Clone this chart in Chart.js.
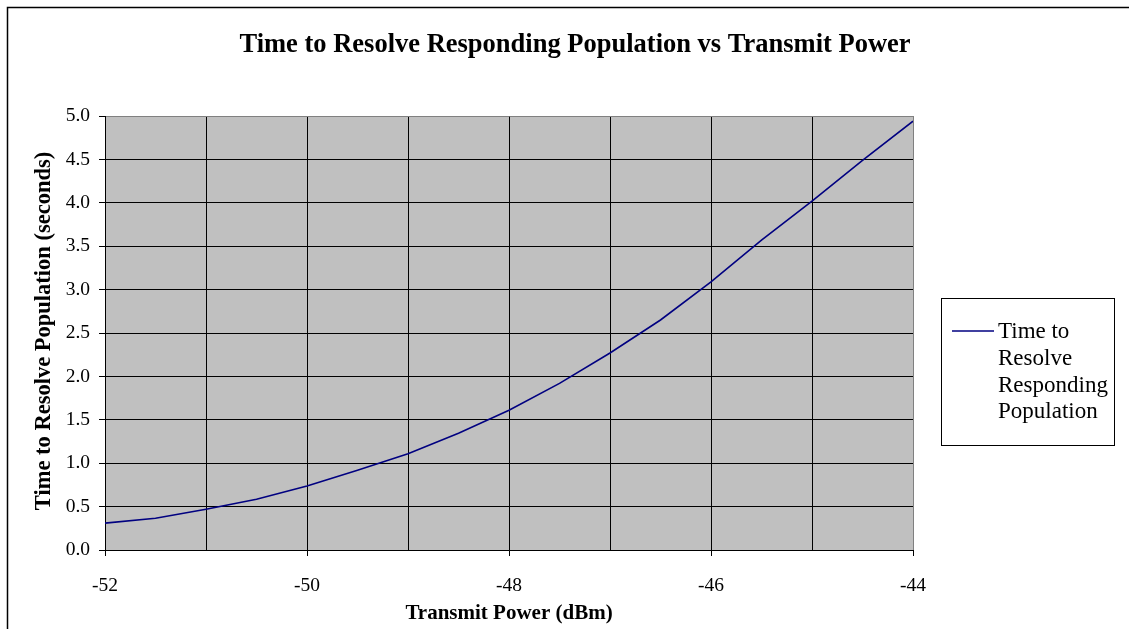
<!DOCTYPE html>
<html>
<head>
<meta charset="utf-8">
<title>Time to Resolve Responding Population vs Transmit Power</title>
<script src="https://cdn.jsdelivr.net/npm/chart.js@4/dist/chart.umd.min.js"></script>
<style>
  html, body { margin: 0; padding: 0; background: #ffffff; }
  #wrap { width: 1129px; height: 629px; }
</style>
</head>
<body>
<div id="wrap"><canvas id="c" width="1129" height="629"></canvas></div>
<script>
// Transmit power (dBm) and time to resolve the responding population (s)
const powerDbm = [-52, -51.5, -51, -50.5, -50, -49.5, -49, -48.5, -48, -47.5, -47, -46.5, -46, -45.5, -45, -44.5, -44];
const resolveSeconds = [0.31, 0.365, 0.47, 0.585, 0.737, 0.92, 1.11, 1.345, 1.61, 1.92, 2.27, 2.65, 3.09, 3.57, 4.02, 4.49, 4.94];

const chartTitle = 'Time to Resolve Responding Population vs Transmit Power';
const xAxisTitle = 'Transmit Power (dBm)';
const yAxisTitle = 'Time to Resolve Population (seconds)';
const seriesName = 'Time to Resolve Responding Population';
const legendLines = ['Time to', 'Resolve', 'Responding', 'Population'];

const SERIF = "'Liberation Serif', 'Times New Roman', serif";
const LINE_COLOR = '#000080';

const points = powerDbm.map((x, i) => ({ x: x, y: resolveSeconds[i] }));

// Grey plot background, outer sheet border, titles and boxed legend
const decorations = {
  id: 'decorations',
  beforeDraw(chart) {
    const { ctx, chartArea: a } = chart;
    ctx.save();
    ctx.fillStyle = '#ffffff';
    ctx.fillRect(0, 0, chart.width, chart.height);
    ctx.fillStyle = '#c0c0c0';
    ctx.fillRect(a.left, a.top, a.right - a.left, a.bottom - a.top);
    ctx.restore();
  },
  afterDraw(chart) {
    const { ctx } = chart;
    ctx.save();
    // outer border
    ctx.strokeStyle = '#000000';
    ctx.lineWidth = 1.5;
    ctx.beginPath();
    ctx.moveTo(7.5, chart.height);
    ctx.lineTo(7.5, 7.5);
    ctx.lineTo(chart.width, 7.5);
    ctx.stroke();

    // title
    ctx.fillStyle = '#000000';
    ctx.textAlign = 'center';
    ctx.textBaseline = 'middle';
    ctx.font = 'bold 26.5px ' + SERIF;
    ctx.fillText(chartTitle, 575, 45);

    // axis titles
    ctx.font = 'bold 21px ' + SERIF;
    ctx.fillText(xAxisTitle, 509, 614);
    ctx.save();
    ctx.translate(44, 331);
    ctx.rotate(-Math.PI / 2);
    ctx.font = 'bold 22.5px ' + SERIF;
    ctx.fillText(yAxisTitle, 0, 0);
    ctx.restore();

    // legend box
    ctx.lineWidth = 1;
    ctx.strokeStyle = '#000000';
    ctx.strokeRect(941.5, 298.5, 173, 147);
    ctx.strokeStyle = LINE_COLOR;
    ctx.lineWidth = 1.5;
    ctx.beginPath();
    ctx.moveTo(952, 331);
    ctx.lineTo(994, 331);
    ctx.stroke();
    ctx.fillStyle = '#000000';
    ctx.textAlign = 'left';
    ctx.font = '23px ' + SERIF;
    legendLines.forEach((t, i) => ctx.fillText(t, 998, 332 + i * 26.8));
    ctx.restore();
  }
};

new Chart(document.getElementById('c'), {
  type: 'scatter',
  data: {
    datasets: [{
      label: seriesName,
      data: points,
      showLine: true,
      borderColor: LINE_COLOR,
      borderWidth: 1.6,
      pointRadius: 0,
      pointHoverRadius: 0,
      fill: false,
      tension: 0
    }]
  },
  options: {
    responsive: false,
    animation: false,
    devicePixelRatio: 1,
    layout: { padding: { left: 0, top: 116, right: 216, bottom: 0 } },
    plugins: {
      legend: { display: false },
      title: { display: false },
      tooltip: { enabled: false }
    },
    scales: {
      x: {
        type: 'linear',
        min: -52,
        max: -44,
        afterFit: s => { s.height = 79; },
        border: { display: true, color: '#000000', width: 1 },
        grid: {
          color: c => (c.tick && c.tick.value === -44 ? '#808080' : '#000000'),
          lineWidth: 1,
          drawTicks: true,
          tickLength: 6,
          tickColor: c => (c.tick && c.tick.value % 2 === 0 ? '#000000' : 'rgba(0,0,0,0)')
        },
        ticks: {
          stepSize: 1,
          padding: 18,
          color: '#000000',
          font: { family: SERIF, size: 19.5 },
          maxRotation: 0,
          autoSkip: false,
          callback: v => (v % 2 === 0 ? String(v) : '')
        }
      },
      y: {
        type: 'linear',
        min: 0,
        max: 5,
        afterFit: s => { s.width = 105; },
        border: { display: true, color: '#000000', width: 1 },
        grid: {
          color: c => (c.tick && c.tick.value === 5 ? '#808080' : '#000000'),
          lineWidth: 1,
          drawTicks: true,
          tickLength: 6,
          tickColor: '#000000'
        },
        ticks: {
          stepSize: 0.5,
          padding: 9,
          color: '#000000',
          font: { family: SERIF, size: 19.5 },
          callback: v => v.toFixed(1)
        }
      }
    }
  },
  plugins: [decorations]
});
</script>
</body>
</html>
